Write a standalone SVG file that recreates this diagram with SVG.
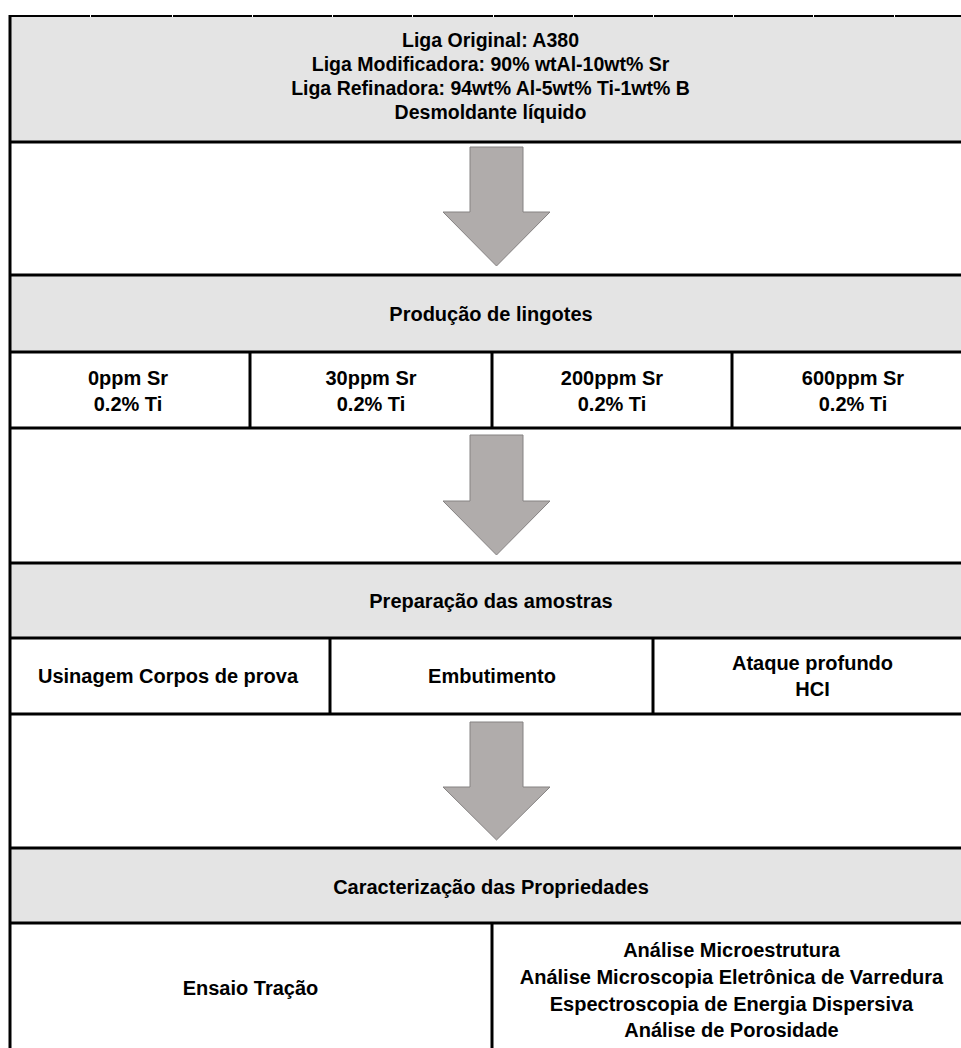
<svg xmlns="http://www.w3.org/2000/svg" width="961" height="1048" viewBox="0 0 961 1048">
<style>
.band{fill:#e4e4e4}
.ln{stroke:#000;stroke-width:3;fill:none}
.t{font-family:"Liberation Sans",Arial,sans-serif;font-weight:bold;font-size:20px;fill:#000;text-anchor:middle}
.ts{font-size:19.5px}
.arr{fill:#b0acab;stroke:#858282;stroke-width:1}
</style>
<rect width="961" height="1048" fill="#fff"/>
<g id="n-ligas">
<rect class="band" x="10" y="16" width="962" height="126"/>
<text class="t ts" x="490.5" y="47">Liga Original: A380</text>
<text class="t ts" x="490.5" y="71">Liga Modificadora: 90% wtAl-10wt% Sr</text>
<text class="t ts" x="490.5" y="95">Liga Refinadora: 94wt% Al-5wt% Ti-1wt% B</text>
<text class="t ts" x="490.5" y="119">Desmoldante líquido</text>
</g>
<g id="n-producao">
<rect class="band" x="10" y="275" width="962" height="77"/>
<text class="t" x="491" y="321">Produção de lingotes</text>
</g>
<g id="n-0ppm"><text class="t" x="128" y="385">0ppm Sr</text><text class="t" x="128" y="411">0.2% Ti</text></g>
<g id="n-30ppm"><text class="t" x="371" y="385">30ppm Sr</text><text class="t" x="371" y="411">0.2% Ti</text></g>
<g id="n-200ppm"><text class="t" x="612" y="385">200ppm Sr</text><text class="t" x="612" y="411">0.2% Ti</text></g>
<g id="n-600ppm"><text class="t" x="853" y="385">600ppm Sr</text><text class="t" x="853" y="411">0.2% Ti</text></g>
<g id="n-preparacao">
<rect class="band" x="10" y="563" width="962" height="75"/>
<text class="t" x="491" y="608">Preparação das amostras</text>
</g>
<g id="n-usinagem"><text class="t" x="168" y="683">Usinagem Corpos de prova</text></g>
<g id="n-embutimento"><text class="t" x="492" y="683">Embutimento</text></g>
<g id="n-ataque"><text class="t" x="812.5" y="670">Ataque profundo</text><text class="t" x="812.5" y="696">HCI</text></g>
<g id="n-caracterizacao">
<rect class="band" x="10" y="848" width="962" height="75"/>
<text class="t" x="491" y="894">Caracterização das Propriedades</text>
</g>
<g id="n-ensaio"><text class="t" x="250.5" y="995">Ensaio Tração</text></g>
<g id="n-analises">
<text class="t" x="731.5" y="957">Análise Microestrutura</text>
<text class="t" x="731.5" y="984">Análise Microscopia Eletrônica de Varredura</text>
<text class="t" x="731.5" y="1011">Espectroscopia de Energia Dispersiva</text>
<text class="t" x="731.5" y="1037">Análise de Porosidade</text>
</g>
<g id="grid">
<line x1="9" y1="16" x2="961" y2="16" stroke="#000" stroke-width="2"/>
<line class="ln" x1="10" y1="15" x2="10" y2="1048"/>
<line class="ln" x1="9" y1="142" x2="961" y2="142"/>
<line class="ln" x1="9" y1="275" x2="961" y2="275"/>
<line class="ln" x1="9" y1="352" x2="961" y2="352"/>
<line class="ln" x1="9" y1="428" x2="961" y2="428"/>
<line class="ln" x1="9" y1="563" x2="961" y2="563"/>
<line class="ln" x1="9" y1="638" x2="961" y2="638"/>
<line class="ln" x1="9" y1="714" x2="961" y2="714"/>
<line class="ln" x1="9" y1="848" x2="961" y2="848"/>
<line class="ln" x1="9" y1="923" x2="961" y2="923"/>
<line class="ln" x1="250" y1="352" x2="250" y2="428"/>
<line class="ln" x1="492" y1="352" x2="492" y2="428"/>
<line class="ln" x1="732" y1="352" x2="732" y2="428"/>
<line class="ln" x1="330" y1="638" x2="330" y2="714"/>
<line class="ln" x1="653" y1="638" x2="653" y2="714"/>
<line class="ln" x1="492" y1="923" x2="492" y2="1048"/>
<g fill="#fff">
<rect x="90" y="14" width="1" height="3"/><rect x="172" y="14" width="1" height="3"/><rect x="252" y="14" width="1" height="3"/><rect x="332" y="14" width="1" height="3"/><rect x="412" y="14" width="1" height="3"/><rect x="493" y="14" width="1" height="3"/><rect x="573" y="14" width="1" height="3"/><rect x="653" y="14" width="1" height="3"/><rect x="733" y="14" width="1" height="3"/><rect x="813" y="14" width="1" height="3"/><rect x="894" y="14" width="1" height="3"/>
</g>
</g>
<g id="connectors">
<polygon class="arr" points="470,147 523,147 523,212 550,212 496.5,266 443,212 470,212"/>
<polygon class="arr" points="470,435 523,435 523,501 550,501 496.5,555 443,501 470,501"/>
<polygon class="arr" points="470,722 523,722 523,787 550,787 496.5,840 443,787 470,787"/>
</g>
</svg>
